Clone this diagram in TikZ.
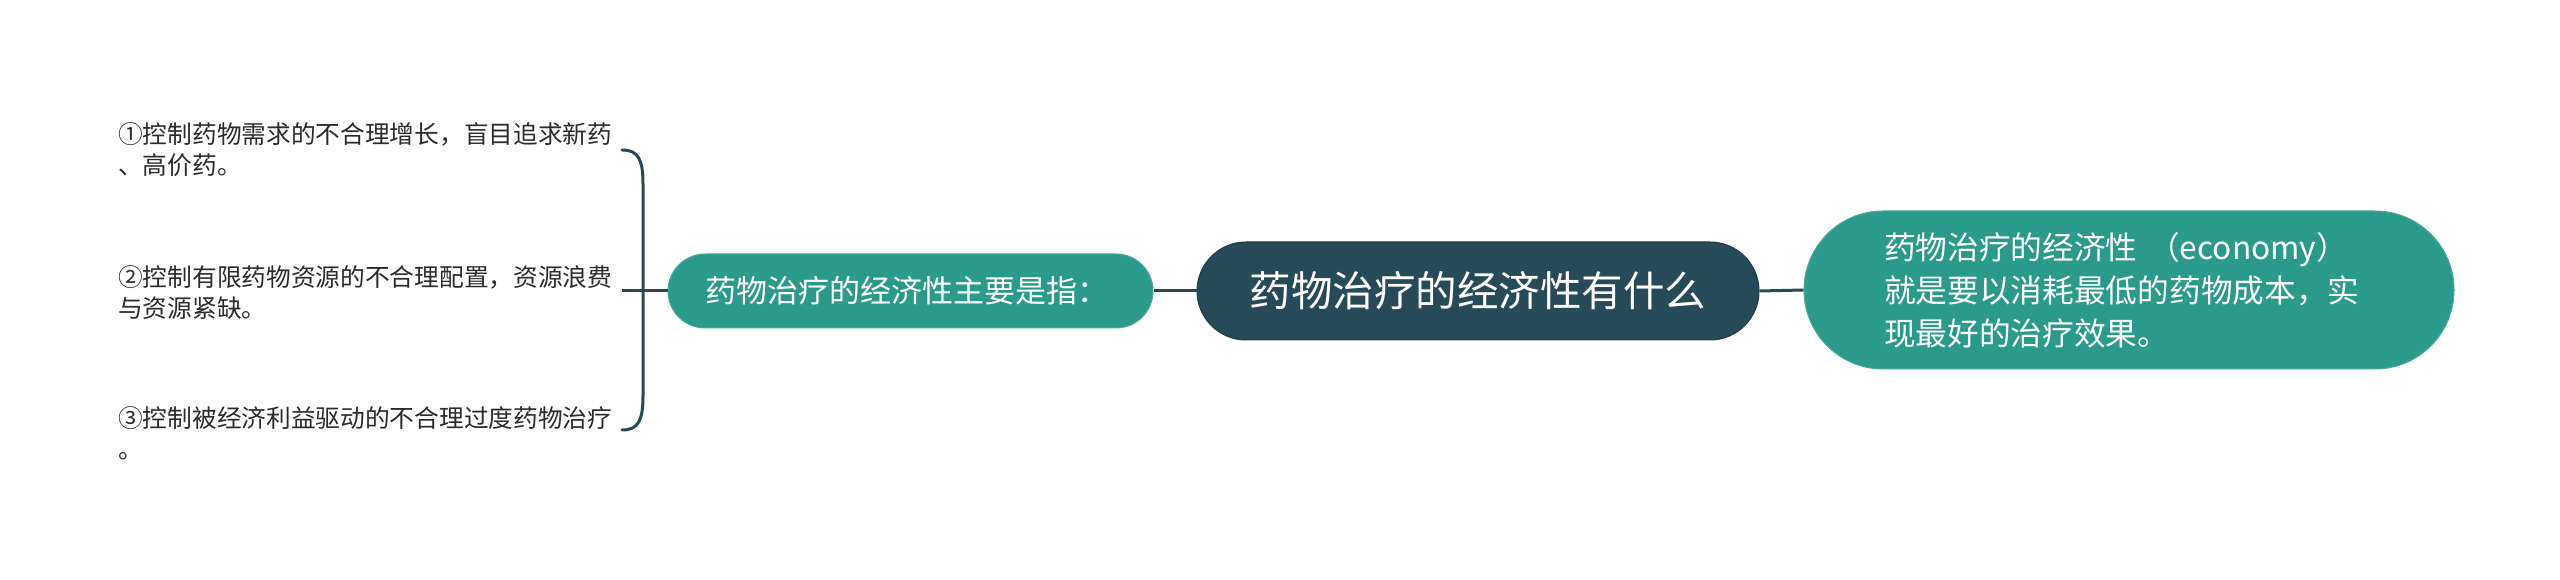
\documentclass[tikz,border=0pt]{standalone}
\usepackage{fontspec}
\setmainfont{Noto Sans CJK SC}
\definecolor{teal1}{HTML}{2A9B8A}
\definecolor{dark1}{HTML}{274A59}
\definecolor{txt1}{HTML}{2B2B2B}
\begin{document}
\begin{tikzpicture}[x=1pt,y=1pt,
  conn/.style={draw=dark1,line width=3pt},
  centerbox/.style={fill=dark1,draw=dark1!80!black,line width=1pt,text=white,minimum width=562pt,minimum height=98pt,rounded corners=49pt,inner sep=0pt,font=\fontsize{41.5}{48}\selectfont},
  subbox/.style={fill=teal1,draw=teal1!85!white,line width=1pt,text=white,inner sep=0pt,align=left,font=\fontsize{31}{38}\selectfont},
  leafbox/.style={text=txt1,align=left,anchor=west,inner sep=0pt,font=\fontsize{24.7}{31}\selectfont}]
\useasboundingbox (0,0) rectangle (2560,579);
\node[centerbox] (c) at (1478,288) {药物治疗的经济性有什么};
\node[subbox,minimum width=485pt,minimum height=74pt,rounded corners=37pt,text width=411pt] (l) at (910.5,288) {药物治疗的经济性主要是指：};
\node[subbox,minimum width=650pt,minimum height=158pt,rounded corners=79pt,text width=490pt,font=\fontsize{31.7}{43}\selectfont] (r) at (2129,289) {药物治疗的经济性 （economy）\\就是要以消耗最低的药物成本，实\\现最好的治疗效果。};
\node[leafbox] (a1) at (118,429) {①控制药物需求的不合理增长，盲目追求新药\\、高价药。};
\node[leafbox] (a2) at (118,286.5) {②控制有限药物资源的不合理配置，资源浪费\\与资源紧缺。};
\node[leafbox] (a3) at (118,146) {③控制被经济利益驱动的不合理过度药物治疗\\。};
\coordinate (bt) at (622,429);
\coordinate (bb) at (622,149);
\coordinate (bm) at (622,288);
\draw[conn] (c.west) -- (l.east);
\draw[conn] (c.east) -- (r.west);
\draw[conn] (l.west) -- (bm);
\draw[conn,line cap=round] (bt) .. controls (638,429) and (643,420) .. (643,395) -- (643,183) .. controls (643,158) and (638,149) .. (bb);
\end{tikzpicture}
\end{document}
